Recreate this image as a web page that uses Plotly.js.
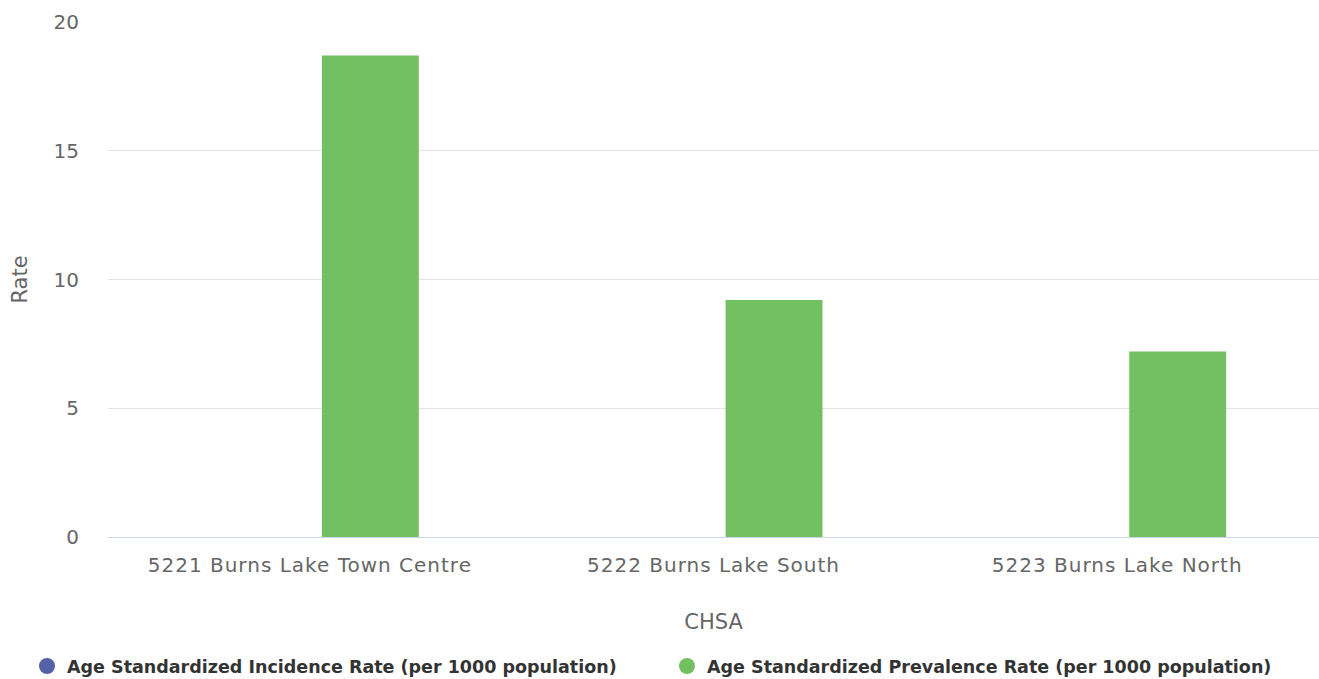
<!DOCTYPE html>
<html>
<head>
<meta charset="utf-8">
<script src="https://cdn.plot.ly/plotly-3.0.1.min.js"></script>
<style>html,body{margin:0;padding:0;background:#fff;}#chart{width:1319px;height:679px;}
#chart .xtick text{letter-spacing:1px;}</style>
</head>
<body>
<div id="chart"></div>
<script>
var categories = ["5221 Burns Lake Town Centre", "5222 Burns Lake South", "5223 Burns Lake North"];
var incidenceName = "Age Standardized Incidence Rate (per 1000 population)";
var prevalenceName = "Age Standardized Prevalence Rate (per 1000 population)";
var incidenceValues = [0, 0, 0];
var prevalenceValues = [18.7, 9.2, 7.2];
var yTicks = [0, 5, 10, 15, 20];

var blue = "#5661a8";
var green = "#73c062";

var traces = [
  {type: "bar", name: incidenceName, x: categories, y: incidenceValues,
   marker: {color: blue}, showlegend: false, hoverinfo: "skip"},
  {type: "bar", name: prevalenceName, x: categories, y: prevalenceValues,
   marker: {color: green}, showlegend: false},
  {type: "scatter", mode: "markers", name: incidenceName, x: [null], y: [null],
   marker: {color: blue, size: 16, symbol: "circle"}, showlegend: true, legend: "legend"},
  {type: "scatter", mode: "markers", name: prevalenceName, x: [null], y: [null],
   marker: {color: green, size: 16, symbol: "circle"}, showlegend: true, legend: "legend2"}
];

var legendFont = {size: 17.5, color: "#333", family: "DejaVu Sans, sans-serif", weight: "bold"};

var layout = {
  width: 1319, height: 679,
  margin: {l: 108, r: 0, t: 22, b: 142},
  paper_bgcolor: "#fff", plot_bgcolor: "#fff",
  barmode: "group", bargap: 0.4, bargroupgap: 0.2,
  font: {family: "DejaVu Sans, sans-serif", color: "#666"},
  xaxis: {
    type: "category",
    tickfont: {size: 20, color: "#666", family: "DejaVu Sans, sans-serif"},
    showgrid: false, zeroline: false, showline: true, linecolor: "#ccd6eb", linewidth: 1,
    ticks: "", ticklabelstandoff: 10,
    title: {text: "CHSA", font: {size: 21, color: "#666"}, standoff: 38}
  },
  yaxis: {
    range: [0, 20], tickvals: yTicks, ticktext: yTicks.map(String),
    tickfont: {size: 20, color: "#666", family: "DejaVu Sans, sans-serif"},
    showgrid: true, gridcolor: "#e3e3e3", gridwidth: 1,
    zeroline: false, showline: false, ticks: "", ticklabelstandoff: 28,
    title: {text: "Rate", font: {size: 21, color: "#666"}, standoff: 20}
  },
  legend: {
    orientation: "h", x: 27 / 1319, xanchor: "left", xref: "container",
    y: 0.019, yanchor: "middle", yref: "container",
    font: legendFont, itemclick: false, itemdoubleclick: false
  },
  legend2: {
    orientation: "h", x: 667 / 1319, xanchor: "left", xref: "container",
    y: 0.019, yanchor: "middle", yref: "container",
    font: legendFont, itemclick: false, itemdoubleclick: false
  },
  showlegend: true
};

Plotly.newPlot("chart", traces, layout, {displayModeBar: false, staticPlot: true});
</script>
</body>
</html>
